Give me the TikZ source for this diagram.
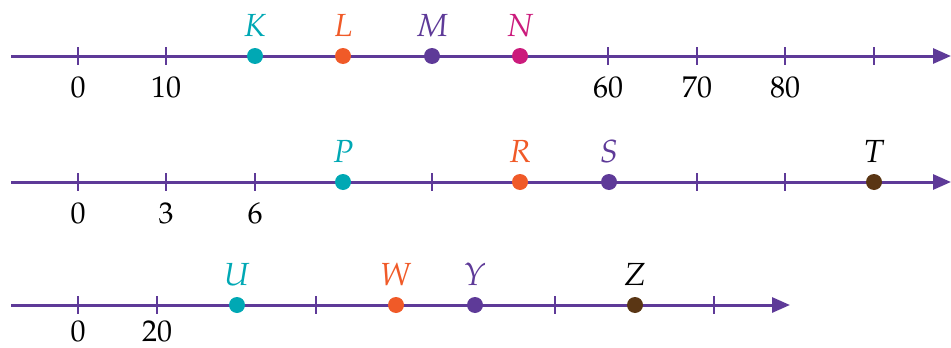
\documentclass[tikz,border=0pt]{standalone}
\usepackage{mathpazo}
\usetikzlibrary{arrows.meta}
\definecolor{axispurple}{HTML}{5E3A98}
\definecolor{teal}{HTML}{00A8B4}
\definecolor{orangered}{HTML}{F05A28}
\definecolor{magenta}{HTML}{CB1B7C}
\definecolor{brown}{HTML}{5A3614}
\tikzset{
  axis/.style={draw=axispurple, line width=3pt, -{Triangle[length=18pt,width=15pt]}},
  tickmark/.style={draw=axispurple, line width=2.5pt},
  dot/.style={circle, inner sep=0pt, minimum size=16pt},
  ptlabel/.style={anchor=base, inner sep=0pt, font=\fontsize{32}{38}\selectfont},
  numlabel/.style={anchor=base, inner sep=0pt, font=\fontsize{30}{36}\selectfont, text=black},
}
\begin{document}
\begin{tikzpicture}[x=1pt,y=-1pt]
\useasboundingbox (0,0) rectangle (951,348);
% ---------- first line ----------
\coordinate (a1s) at (11,56);
\coordinate (a1e) at (951,56);
\draw[axis] (a1s) -- (a1e);
\foreach \x/\n in {78/0,166/10,608/60,697/70,785/80} {
  \draw[tickmark] (\x,47) -- (\x,65);
  \node[numlabel] at (\x,97) {$\n$};
}
\draw[tickmark] (874,47) -- (874,65);
\foreach \x/\c/\l in {255/teal/K,343/orangered/L,432/axispurple/M,520/magenta/N} {
  \node[dot, fill=\c] (p\l) at (\x,56) {};
  \node[ptlabel, text=\c] (t\l) at (\x,36) {$\l$};
}
% ---------- second line ----------
\coordinate (a2s) at (11,182);
\coordinate (a2e) at (951,182);
\draw[axis] (a2s) -- (a2e);
\foreach \x/\n in {78/0,166/3,255/6} {
  \draw[tickmark] (\x,173) -- (\x,191);
  \node[numlabel] at (\x,223) {$\n$};
}
\foreach \x in {432,697,785} \draw[tickmark] (\x,173) -- (\x,191);
\foreach \x/\c/\l in {343/teal/P,520/orangered/R,609/axispurple/S,874/brown/T} {
  \node[dot, fill=\c] (p\l) at (\x,182) {};
}
\node[ptlabel, text=teal] (tP) at (343,162) {$P$};
\node[ptlabel, text=orangered] (tR) at (520,162) {$R$};
\node[ptlabel, text=axispurple] (tS) at (609,162) {$S$};
\node[ptlabel, text=black] (tT) at (874,162) {$T$};
% ---------- third line ----------
\coordinate (a3s) at (11,305);
\coordinate (a3e) at (790,305);
\draw[axis] (a3s) -- (a3e);
\foreach \x/\n in {78/0,157/20} {
  \draw[tickmark] (\x,296) -- (\x,314);
  \node[numlabel] at (\x,341) {$\n$};
}
\foreach \x in {316,555,714} \draw[tickmark] (\x,296) -- (\x,314);
\foreach \x/\c/\l in {237/teal/U,396/orangered/W,475/axispurple/Y,635/brown/Z} {
  \node[dot, fill=\c] (p\l) at (\x,305) {};
}
\node[ptlabel, text=teal] (tU) at (237,285) {$U$};
\node[ptlabel, text=orangered] (tW) at (396,285) {$W$};
\node[ptlabel, text=axispurple] (tY) at (475,285) {$Y$};
\node[ptlabel, text=black] (tZ) at (635,285) {$Z$};
\end{tikzpicture}
\end{document}
